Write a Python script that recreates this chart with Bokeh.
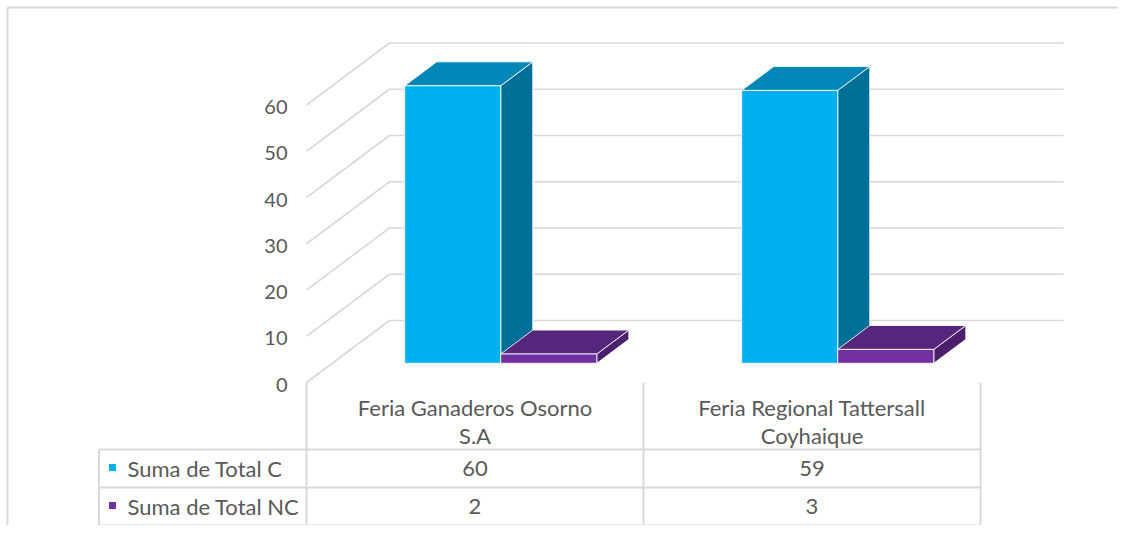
from bokeh.plotting import figure
from bokeh.models import Range1d
from bokeh.core.properties import value
from bokeh.embed import file_html
from bokeh.resources import INLINE

# ---------------- data ----------------
categories = ["Feria Ganaderos Osorno\nS.A", "Feria Regional Tattersall\nCoyhaique"]
series_names = ["Suma de Total C", "Suma de Total NC"]
total_c = [60, 59]
total_nc = [2, 3]
y_ticks = [0, 10, 20, 30, 40, 50, 60]

# ---------------- styling / layout ----------------
W, H = 1118, 525
PX0, PXC = 306.0, 337.0        # screen x of category 0 left edge, px per category
PY0, PYV = 382.0, 4.625        # screen y of value 0 (front), px per value unit
DEPTH_DX = 83.0 / PXC          # full depth offset in category units
DEPTH_DY = 62.0 / PYV          # full depth offset in value units
OFF = 0                        # screen offset of the canvas

def X(px):
    return (px - PX0) / PXC

def Y(py):
    return (PY0 - py) / PYV

def proj(c, v, f):
    return c + f * DEPTH_DX, v + f * DEPTH_DY

GRID = "#D9D9D9"
TXT = "#595959"
FONT = value("Lato")
front_cols = ["#00B0F0", "#7030A0"]
top_cols = ["#0087B8", "#55267B"]
side_cols = ["#006F98", "#4B1F6C"]
bar_off = [(0.215, 0.5), (0.5, 0.785)]
F0, F1 = 0.31, 0.696

p = figure(width=W, height=H, output_backend="svg", toolbar_location=None,
           x_range=Range1d(X(OFF), X(OFF + W)), y_range=Range1d(Y(OFF + H), Y(OFF)),
           x_axis_type=None, y_axis_type=None, min_border=0)
p.outline_line_color = None
p.grid.visible = False
p.background_fill_color = "white"
p.border_fill_color = "white"

# chart border (top and left visible)
p.line([X(7), X(OFF + W)], [Y(7), Y(7)], line_color=GRID, line_width=2)
p.line([X(7), X(7)], [Y(7), Y(OFF + H)], line_color=GRID, line_width=2)

# gridlines: side wall diagonal + back wall
gx, gy = [], []
for t in y_ticks:
    a = proj(0, t, 0)
    b = proj(0, t, 1)
    c = proj(len(categories), t, 1)
    gx.append([a[0], b[0], c[0]])
    gy.append([a[1], b[1], c[1]])
p.multi_line(gx, gy, line_color=GRID, line_width=1.6)

# y tick labels (front edge)
p.text(x=[X(287)] * len(y_ticks), y=y_ticks, text=[str(t) for t in y_ticks],
       text_align="right", text_baseline="middle", text_font=FONT,
       text_font_size="20px", text_color=TXT, y_offset=2)

# 3D bars
xs, ys, fills = [], [], []
for i in range(len(categories)):
    for s, vals in enumerate([total_c, total_nc]):
        v = vals[i]
        c0, c1 = i + bar_off[s][0], i + bar_off[s][1]
        faces = [
            ([(c1, 0, F0), (c1, v, F0), (c1, v, F1), (c1, 0, F1)], side_cols[s]),
            ([(c0, v, F0), (c1, v, F0), (c1, v, F1), (c0, v, F1)], top_cols[s]),
            ([(c0, 0, F0), (c1, 0, F0), (c1, v, F0), (c0, v, F0)], front_cols[s]),
        ]
        for pts, col in faces:
            pp = [proj(*q) for q in pts]
            xs.append([q[0] for q in pp])
            ys.append([q[1] for q in pp])
            fills.append(col)
p.patches(xs, ys, fill_color=fills, line_color="white", line_width=1, line_alpha=0.85)

# data table
n = len(categories)
left_tab = X(98.5)
row_lines = [Y(449), Y(487), Y(525)]
tx, ty = [], []
for k in range(n + 1):
    tx.append([k, k]); ty.append([0, row_lines[-1]])
tx.append([left_tab, left_tab]); ty.append([row_lines[0], row_lines[-1]])
for r in row_lines:
    tx.append([left_tab, n]); ty.append([r, r])
p.multi_line(tx, ty, line_color=GRID, line_width=2)

# header (category names)
hx, hy, ht = [], [], []
for i, cat in enumerate(categories):
    for j, line in enumerate(cat.split("\n")):
        hx.append(i + 0.5); hy.append(Y(407 + 28 * j)); ht.append(line)
p.text(x=hx, y=hy, text=ht, text_align="center", text_baseline="middle",
       text_font=FONT, text_font_size="22px", text_color=TXT)

# rows: legend keys, names, values
row_centers = [Y(468), Y(506)]
p.scatter(x=[X(112)] * 2, y=[Y(467), Y(505)], marker="square", size=7,
          fill_color=front_cols, line_color=None)
p.text(x=[X(127)] * 2, y=row_centers, text=series_names, text_align="left",
       text_baseline="middle", text_font=FONT, text_font_size="22px", text_color=TXT)
vx, vy, vt = [], [], []
for s, vals in enumerate([total_c, total_nc]):
    for i, v in enumerate(vals):
        vx.append(i + 0.5); vy.append(row_centers[s]); vt.append(str(v))
p.text(x=vx, y=vy, text=vt, text_align="center", text_baseline="middle",
       text_font=FONT, text_font_size="22px", text_color=TXT)

open("out.html", "w").write(file_html(p, INLINE))
